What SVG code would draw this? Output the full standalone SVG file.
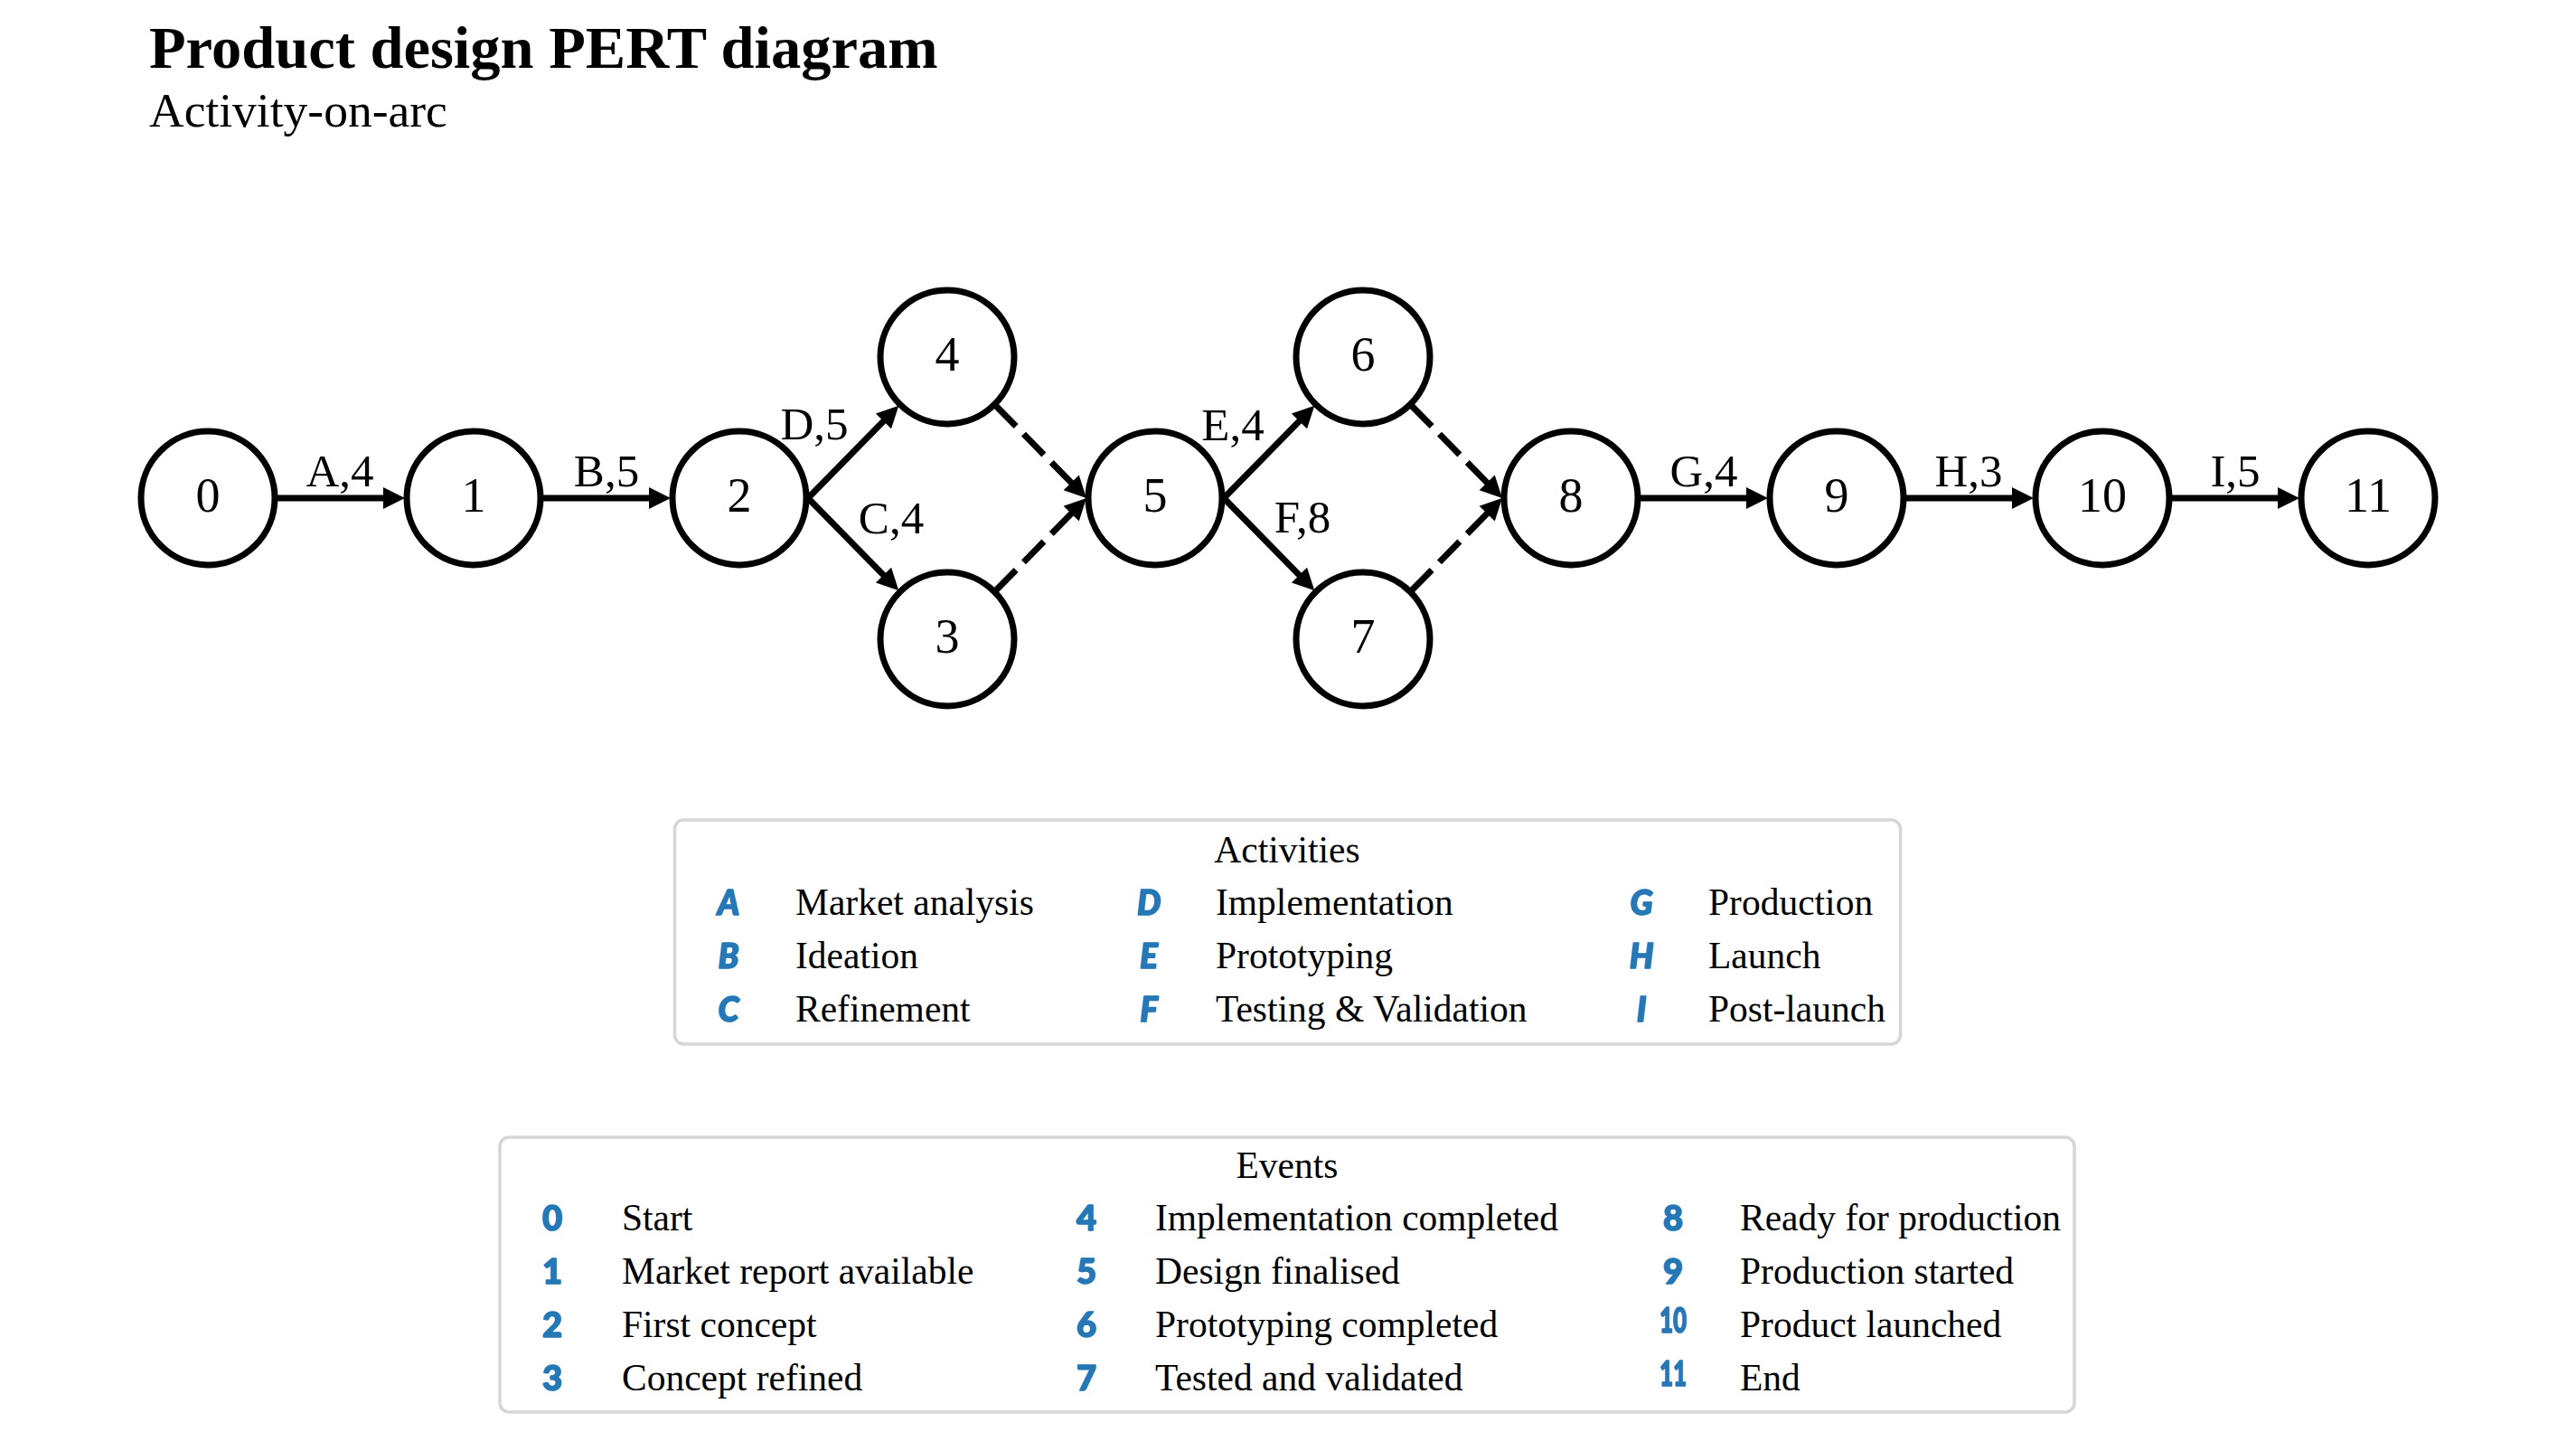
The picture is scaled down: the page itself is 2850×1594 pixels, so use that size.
<svg xmlns="http://www.w3.org/2000/svg" width="2850" height="1594" viewBox="0 0 2850 1594">
<defs>
<style>
.serif{font-family:"Liberation Serif","Times New Roman",serif;fill:#000}
.node circle{fill:#fff;stroke:#000;stroke-width:7}
.node text{font-family:"Liberation Serif","Times New Roman",serif;font-size:54px;text-anchor:middle;fill:#000}
.edge{stroke:#000;stroke-width:7;fill:none;marker-end:url(#ah)}
.dash{stroke-dasharray:32 12}
.elab{font-family:"Liberation Serif","Times New Roman",serif;font-size:51px;text-anchor:middle;fill:#000}
.box{fill:#fff;stroke:#d6d6d6;stroke-width:3.5}
.lt{font-family:"Liberation Serif","Times New Roman",serif;font-size:41.5px;fill:#000}
.key{font-family:Lato,"DejaVu Sans",sans-serif;font-weight:900;font-style:italic;font-size:37px;fill:#2577b5;stroke:#2577b5;stroke-width:1.6;stroke-linejoin:round;text-anchor:middle}
.num{font-family:Lato,"DejaVu Sans",sans-serif;font-weight:900;font-size:38px;fill:#2577b5;stroke:#2577b5;stroke-width:1.6;stroke-linejoin:round;text-anchor:middle}
</style>
<marker id="ah" markerUnits="userSpaceOnUse" markerWidth="24" markerHeight="24" refX="2" refY="12" orient="auto" overflow="visible">
<path d="M0,0 L24,12 L0,24 z" fill="#000"/>
</marker>
</defs>
<rect width="2850" height="1594" fill="#fff"/>
<g id="title">
<text class="serif" x="165" y="75" font-size="66.5" font-weight="bold">Product design PERT diagram</text>
<text class="serif" x="165" y="140" font-size="53.5">Activity-on-arc</text>
</g>
<g id="connectors">
<line class="edge" x1="306" y1="551" x2="426" y2="551"/>
<line class="edge" x1="600" y1="551" x2="720" y2="551"/>
<line class="edge" x1="894" y1="551" x2="978.9" y2="464.4"/>
<line class="edge" x1="894" y1="551" x2="978.9" y2="637.6"/>
<line class="edge dash" x1="1101.7" y1="448.7" x2="1186.6" y2="535.3"/>
<line class="edge dash" x1="1101.7" y1="653.3" x2="1186.6" y2="566.7"/>
<line class="edge" x1="1354" y1="551" x2="1438.9" y2="464.4"/>
<line class="edge" x1="1354" y1="551" x2="1438.9" y2="637.6"/>
<line class="edge dash" x1="1561.7" y1="448.7" x2="1646.6" y2="535.3"/>
<line class="edge dash" x1="1561.7" y1="653.3" x2="1646.6" y2="566.7"/>
<line class="edge" x1="1814" y1="551" x2="1934" y2="551"/>
<line class="edge" x1="2108" y1="551" x2="2228" y2="551"/>
<line class="edge" x1="2402" y1="551" x2="2522" y2="551"/>
<text class="elab" x="376" y="538">A,4</text>
<text class="elab" x="671" y="538">B,5</text>
<text class="elab" x="901" y="486">D,5</text>
<text class="elab" x="986" y="590">C,4</text>
<text class="elab" x="1364" y="487">E,4</text>
<text class="elab" x="1441" y="589">F,8</text>
<text class="elab" x="1885" y="538">G,4</text>
<text class="elab" x="2178" y="538">H,3</text>
<text class="elab" x="2473" y="538">I,5</text>
</g>
<g id="node0" class="node"><circle cx="230" cy="551" r="74"/><text x="230" y="566">0</text></g>
<g id="node1" class="node"><circle cx="524" cy="551" r="74"/><text x="524" y="566">1</text></g>
<g id="node2" class="node"><circle cx="818" cy="551" r="74"/><text x="818" y="566">2</text></g>
<g id="node3" class="node"><circle cx="1048" cy="707" r="74"/><text x="1048" y="722">3</text></g>
<g id="node4" class="node"><circle cx="1048" cy="395" r="74"/><text x="1048" y="410">4</text></g>
<g id="node5" class="node"><circle cx="1278" cy="551" r="74"/><text x="1278" y="566">5</text></g>
<g id="node6" class="node"><circle cx="1508" cy="395" r="74"/><text x="1508" y="410">6</text></g>
<g id="node7" class="node"><circle cx="1508" cy="707" r="74"/><text x="1508" y="722">7</text></g>
<g id="node8" class="node"><circle cx="1738" cy="551" r="74"/><text x="1738" y="566">8</text></g>
<g id="node9" class="node"><circle cx="2032" cy="551" r="74"/><text x="2032" y="566">9</text></g>
<g id="node10" class="node"><circle cx="2326" cy="551" r="74"/><text x="2326" y="566">10</text></g>
<g id="node11" class="node"><circle cx="2620" cy="551" r="74"/><text x="2620" y="566">11</text></g>
<g id="legend-activities">
<rect class="box" x="746.5" y="907" width="1356" height="248" rx="10"/>
<text class="lt" x="1424" y="954" text-anchor="middle">Activities</text>
<text class="key" x="806" y="1012">A</text><text class="lt" x="880" y="1012">Market analysis</text>
<text class="key" x="806" y="1071">B</text><text class="lt" x="880" y="1071">Ideation</text>
<text class="key" x="806" y="1130">C</text><text class="lt" x="880" y="1130">Refinement</text>
<text class="key" x="1271" y="1012">D</text><text class="lt" x="1345" y="1012">Implementation</text>
<text class="key" x="1271" y="1071">E</text><text class="lt" x="1345" y="1071">Prototyping</text>
<text class="key" x="1271" y="1130">F</text><text class="lt" x="1345" y="1130">Testing &amp; Validation</text>
<text class="key" x="1816" y="1012">G</text><text class="lt" x="1890" y="1012">Production</text>
<text class="key" x="1816" y="1071">H</text><text class="lt" x="1890" y="1071">Launch</text>
<text class="key" x="1816" y="1130">I</text><text class="lt" x="1890" y="1130">Post-launch</text>
</g>
<g id="legend-events">
<rect class="box" x="553" y="1258" width="1742" height="304" rx="10"/>
<text class="lt" x="1424" y="1303" text-anchor="middle">Events</text>
<text class="num" x="611" y="1361">0</text><text class="lt" x="688" y="1361">Start</text>
<text class="num" x="611" y="1420">1</text><text class="lt" x="688" y="1420">Market report available</text>
<text class="num" x="611" y="1479">2</text><text class="lt" x="688" y="1479">First concept</text>
<text class="num" x="611" y="1538">3</text><text class="lt" x="688" y="1538">Concept refined</text>
<text class="num" x="1202" y="1361">4</text><text class="lt" x="1278" y="1361">Implementation completed</text>
<text class="num" x="1202" y="1420">5</text><text class="lt" x="1278" y="1420">Design finalised</text>
<text class="num" x="1202" y="1479">6</text><text class="lt" x="1278" y="1479">Prototyping completed</text>
<text class="num" x="1202" y="1538">7</text><text class="lt" x="1278" y="1538">Tested and validated</text>
<text class="num" x="1851" y="1361">8</text><text class="lt" x="1925" y="1361">Ready for production</text>
<text class="num" x="1851" y="1420">9</text><text class="lt" x="1925" y="1420">Production started</text>
<text class="num" x="1851" y="1474" font-size="29" textLength="30" lengthAdjust="spacingAndGlyphs">10</text><text class="lt" x="1925" y="1479">Product launched</text>
<text class="num" x="1851" y="1533" font-size="29" textLength="30" lengthAdjust="spacingAndGlyphs">11</text><text class="lt" x="1925" y="1538">End</text>
</g>
</svg>
